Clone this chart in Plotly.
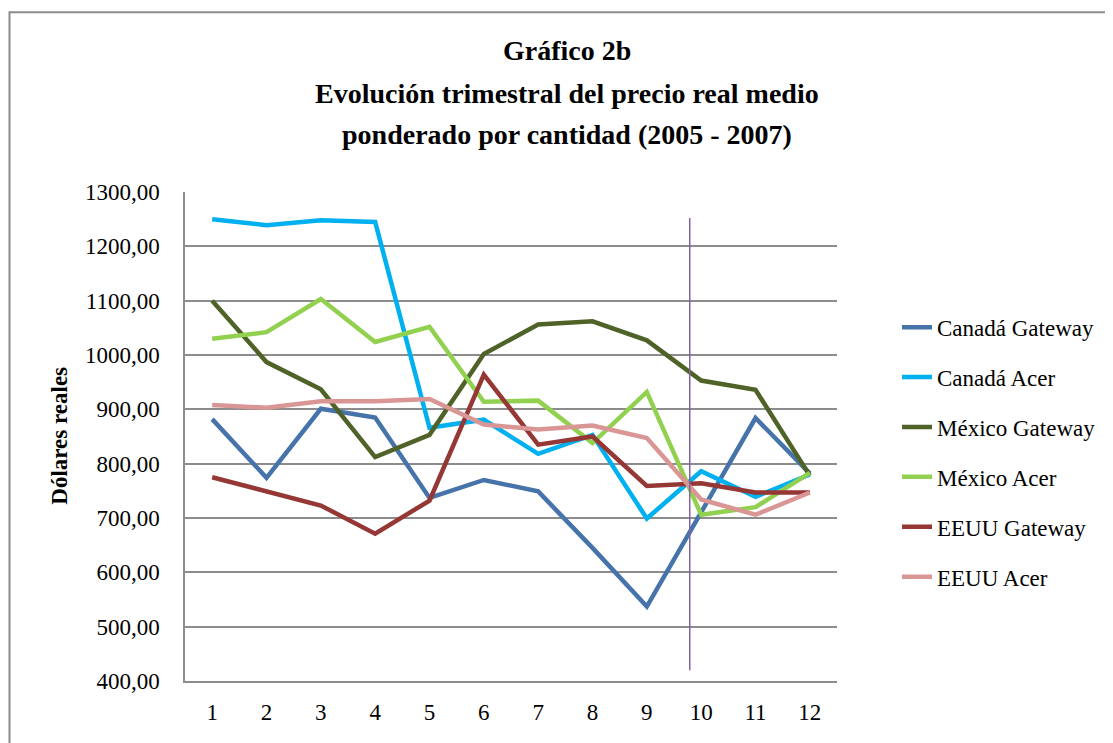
import plotly.graph_objects as go

quarters = [1, 2, 3, 4, 5, 6, 7, 8, 9, 10, 11, 12]
canada_gateway = [882, 774, 901, 885, 737, 770, 749, 645, 537, 710, 884, 782]
canada_acer = [1250, 1239, 1248, 1245, 866, 881, 818, 853, 699, 786, 739, 780]
mexico_gateway = [1100, 987, 937, 812, 853, 1002, 1056, 1062, 1027, 953, 936, 778]
mexico_acer = [1030, 1042, 1103, 1024, 1052, 914, 916, 838, 932, 706, 720, 783]
eeuu_gateway = [775, 749, 723, 671, 732, 964, 835, 850, 759, 764, 747, 747]
eeuu_acer = [908, 903, 915, 915, 919, 872, 863, 870, 847, 734, 706, 747]

series_names = ["Canadá Gateway", "Canadá Acer", "México Gateway", "México Acer",
                "EEUU Gateway", "EEUU Acer"]
series_values = [canada_gateway, canada_acer, mexico_gateway, mexico_acer,
                 eeuu_gateway, eeuu_acer]
series_colors = ["#4673AA", "#00B0F0", "#4F6228", "#92D050", "#953735", "#D99694"]

marker_x = [9.79, 9.79]
marker_y = [420, 1252]

y_ticks = [400, 500, 600, 700, 800, 900, 1000, 1100, 1200, 1300]
y_ticktext = ["400,00", "500,00", "600,00", "700,00", "800,00", "900,00",
              "1000,00", "1100,00", "1200,00", "1300,00"]

title_lines = ["Gráfico 2b", "Evolución trimestral del precio real medio",
               "ponderado por cantidad (2005 - 2007)"]
y_title = "Dólares reales"

FONT = "Liberation Serif"
GRID = "#8C8C8C"

OFF = 8  # page body margin
W, H = 1113 - OFF, 743 - OFF
# plot area in screen pixels
SX0, SX1, SY0, SY1 = 185, 837, 192.3, 681.3
L, R, T, B = SX0 - OFF, (W + OFF) - SX1, SY0 - OFF, (H + OFF) - SY1


def px(xs):
    return (xs - SX0) / (SX1 - SX0)


def py(ys):
    return (SY1 - ys) / (SY1 - SY0)


fig = go.Figure()
for i, (name, vals, col) in enumerate(zip(series_names, series_values, series_colors)):
    fig.add_trace(go.Scatter(x=quarters, y=vals, mode="lines", name=name,
                             legendgroup="g%d" % i,
                             line=dict(color=col, width=4.5)))

fig.add_trace(go.Scatter(x=marker_x, y=marker_y, mode="lines", showlegend=False,
                         line=dict(color="#8064A2", width=1.5), hoverinfo="skip"))

annotations = []
for txt, yy in zip(title_lines, [51, 94, 135]):
    annotations.append(dict(text="<b>%s</b>" % txt, xref="paper", yref="paper",
                            x=px(567), y=py(yy), xanchor="center", yanchor="middle",
                            showarrow=False, font=dict(family=FONT, size=28, color="black")))
annotations.append(dict(text="<b>%s</b>" % y_title, xref="paper", yref="paper",
                        x=px(60), y=py(436), xanchor="center", yanchor="middle",
                        textangle=-90, showarrow=False,
                        font=dict(family=FONT, size=23, color="black")))

fig.update_layout(
    width=W, height=H,
    margin=dict(l=L, r=R, t=T, b=B, autoexpand=False),
    paper_bgcolor="white", plot_bgcolor="white",
    font=dict(family=FONT, size=23, color="black"),
    annotations=annotations,
    showlegend=True,
    legend=dict(x=px(897), y=py(306), xanchor="left", yanchor="top",
                tracegroupgap=17, font=dict(family=FONT, size=23, color="black"),
                bgcolor="rgba(0,0,0,0)"),
    shapes=[dict(type="rect", xref="paper", yref="paper",
                 x0=px(9.5), x1=px(1300), y0=py(900), y1=py(12.5),
                 line=dict(color="#8C8C8C", width=2), layer="below")],
    xaxis=dict(range=[0.5, 12.5], tickvals=quarters, ticktext=[str(q) for q in quarters],
               showgrid=False, zeroline=False, showline=True, linecolor=GRID, linewidth=1.5,
               ticks="", ticklabelstandoff=10,
               tickfont=dict(family=FONT, size=23, color="black")),
    yaxis=dict(range=[400, 1300], tickvals=y_ticks, ticktext=y_ticktext,
               showgrid=True, gridcolor=GRID, gridwidth=1.5, zeroline=False,
               showline=True, linecolor=GRID, linewidth=1.5, ticks="",
               ticklabelstandoff=19,
               tickfont=dict(family=FONT, size=23, color="black")),
)

fig.write_html("out.html")
